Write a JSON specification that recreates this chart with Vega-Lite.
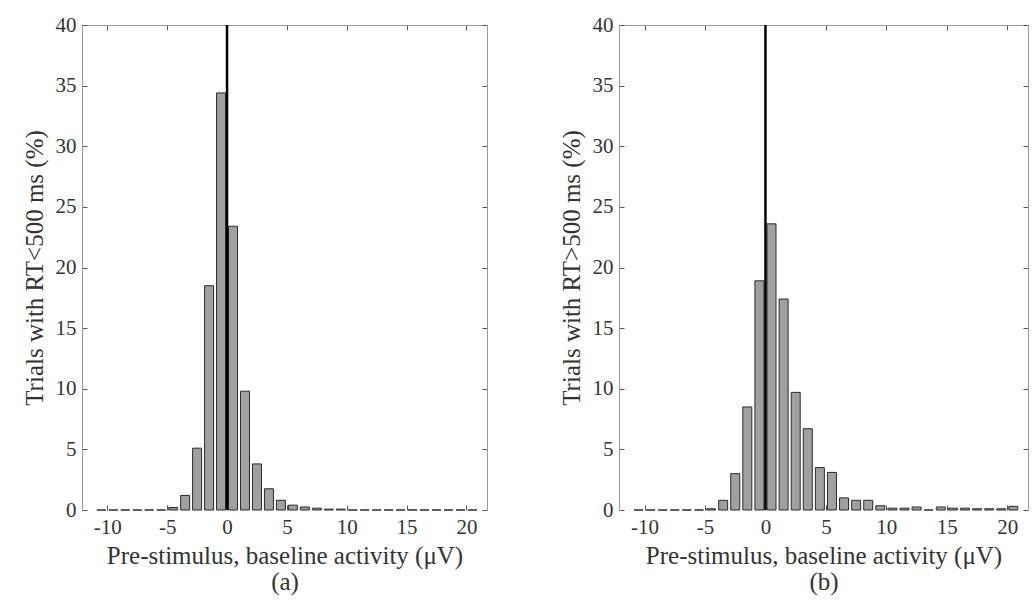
{
  "$schema": "https://vega.github.io/schema/vega-lite/v6.json",
  "background": "white",
  "padding": {"left": 22, "top": 14, "right": 4, "bottom": 4},
  "spacing": 71,
  "config": {
    "font": "Liberation Serif",
    "view": {"stroke": null},
    "axis": {
      "grid": false,
      "labelFont": "Liberation Serif",
      "titleFont": "Liberation Serif",
      "labelFontSize": 21,
      "titleFontSize": 25,
      "titleFontWeight": "normal",
      "labelColor": "#333333",
      "titleColor": "#333333",
      "domainColor": "#9a9a9a",
      "domainWidth": 1,
      "tickColor": "#555555",
      "tickSize": -5,
      "labelPadding": 11,
      "labelExpr": "'' + datum.value"
    }
  },
  "datasets": {
    "a": [
      {"x": -10.5, "pct": 0}, {"x": -9.5, "pct": 0}, {"x": -8.5, "pct": 0}, {"x": -7.5, "pct": 0},
      {"x": -6.5, "pct": 0}, {"x": -5.5, "pct": 0}, {"x": -4.5, "pct": 0.2}, {"x": -3.5, "pct": 1.2},
      {"x": -2.5, "pct": 5.1}, {"x": -1.5, "pct": 18.5}, {"x": -0.5, "pct": 34.4}, {"x": 0.5, "pct": 23.4},
      {"x": 1.5, "pct": 9.8}, {"x": 2.5, "pct": 3.8}, {"x": 3.5, "pct": 1.75}, {"x": 4.5, "pct": 0.8},
      {"x": 5.5, "pct": 0.4}, {"x": 6.5, "pct": 0.25}, {"x": 7.5, "pct": 0.15}, {"x": 8.5, "pct": 0.07},
      {"x": 9.5, "pct": 0.07}, {"x": 10.5, "pct": 0}, {"x": 11.5, "pct": 0}, {"x": 12.5, "pct": 0},
      {"x": 13.5, "pct": 0}, {"x": 14.5, "pct": 0}, {"x": 15.5, "pct": 0}, {"x": 16.5, "pct": 0},
      {"x": 17.5, "pct": 0}, {"x": 18.5, "pct": 0}, {"x": 19.5, "pct": 0}, {"x": 20.5, "pct": 0}
    ],
    "b": [
      {"x": -10.5, "pct": 0}, {"x": -9.5, "pct": 0}, {"x": -8.5, "pct": 0}, {"x": -7.5, "pct": 0},
      {"x": -6.5, "pct": 0}, {"x": -5.5, "pct": 0}, {"x": -4.5, "pct": 0.1}, {"x": -3.5, "pct": 0.8},
      {"x": -2.5, "pct": 3.0}, {"x": -1.5, "pct": 8.5}, {"x": -0.5, "pct": 18.9}, {"x": 0.5, "pct": 23.6},
      {"x": 1.5, "pct": 17.4}, {"x": 2.5, "pct": 9.7}, {"x": 3.5, "pct": 6.7}, {"x": 4.5, "pct": 3.5},
      {"x": 5.5, "pct": 3.1}, {"x": 6.5, "pct": 1.0}, {"x": 7.5, "pct": 0.8}, {"x": 8.5, "pct": 0.8},
      {"x": 9.5, "pct": 0.35}, {"x": 10.5, "pct": 0.15}, {"x": 11.5, "pct": 0.15}, {"x": 12.5, "pct": 0.25},
      {"x": 13.5, "pct": 0}, {"x": 14.5, "pct": 0.25}, {"x": 15.5, "pct": 0.15}, {"x": 16.5, "pct": 0.15},
      {"x": 17.5, "pct": 0.1}, {"x": 18.5, "pct": 0.1}, {"x": 19.5, "pct": 0.1}, {"x": 20.5, "pct": 0.3}
    ]
  },
  "hconcat": [
    {
      "width": 405,
      "height": 485,
      "layer": [
        {
          "data": {"name": "a"},
          "mark": {"type": "bar", "size": 9, "fill": "#a0a0a0", "stroke": "#2b2b2b", "strokeWidth": 1},
          "encoding": {
            "x": {"field": "x", "type": "quantitative",
              "scale": {"domain": [-11.7, 21.3], "nice": false, "zero": false},
              "axis": {"orient": "bottom", "values": [-10, -5, 0, 5, 10, 15, 20], "domain": false,
                "title": ["Pre-stimulus, baseline activity (μV)", "(a)"], "titleLineHeight": 26, "titlePadding": 6}},
            "y": {"field": "pct", "type": "quantitative",
              "scale": {"domain": [0, 40], "nice": false},
              "axis": {"orient": "left", "values": [0, 5, 10, 15, 20, 25, 30, 35, 40],
                "title": "Trials with RT<500 ms (%)", "titlePadding": 8}}
          }
        },
        {
          "data": {"values": [{}]},
          "mark": {"type": "rule", "color": "black", "strokeWidth": 2.5},
          "encoding": {
            "x": {"datum": 0, "type": "quantitative",
              "axis": {"orient": "top", "labels": false, "title": null, "values": [-10, -5, 0, 5, 10, 15, 20]}},
            "y": {"datum": 0, "type": "quantitative",
              "axis": {"orient": "right", "labels": false, "title": null, "values": [0, 5, 10, 15, 20, 25, 30, 35, 40]}},
            "y2": {"datum": 40}
          }
        }
      ],
      "resolve": {"axis": {"x": "independent", "y": "independent"}}
    },
    {
      "width": 409,
      "height": 485,
      "layer": [
        {
          "data": {"name": "b"},
          "mark": {"type": "bar", "size": 9, "fill": "#a0a0a0", "stroke": "#2b2b2b", "strokeWidth": 1},
          "encoding": {
            "x": {"field": "x", "type": "quantitative",
              "scale": {"domain": [-11.7, 21.3], "nice": false, "zero": false},
              "axis": {"orient": "bottom", "values": [-10, -5, 0, 5, 10, 15, 20], "domain": false,
                "title": ["Pre-stimulus, baseline activity (μV)", "(b)"], "titleLineHeight": 26, "titlePadding": 6}},
            "y": {"field": "pct", "type": "quantitative",
              "scale": {"domain": [0, 40], "nice": false},
              "axis": {"orient": "left", "values": [0, 5, 10, 15, 20, 25, 30, 35, 40],
                "title": "Trials with RT>500 ms (%)", "titlePadding": 8}}
          }
        },
        {
          "data": {"values": [{}]},
          "mark": {"type": "rule", "color": "black", "strokeWidth": 2.5},
          "encoding": {
            "x": {"datum": 0, "type": "quantitative",
              "axis": {"orient": "top", "labels": false, "title": null, "values": [-10, -5, 0, 5, 10, 15, 20]}},
            "y": {"datum": 0, "type": "quantitative",
              "axis": {"orient": "right", "labels": false, "title": null, "values": [0, 5, 10, 15, 20, 25, 30, 35, 40]}},
            "y2": {"datum": 40}
          }
        }
      ],
      "resolve": {"axis": {"x": "independent", "y": "independent"}}
    }
  ]
}
